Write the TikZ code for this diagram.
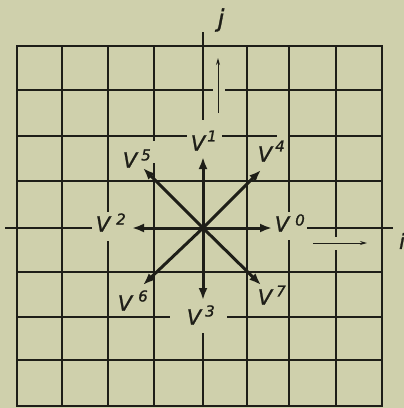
\documentclass[tikz,border=0pt]{standalone}
\usepackage{fontspec}
\setmainfont{DejaVu Sans}[ItalicFeatures={FakeBold=1.2}]
\usetikzlibrary{arrows.meta}
\definecolor{bg}{RGB}{207,208,172}
\definecolor{ink}{RGB}{30,30,24}
\begin{document}
\begin{tikzpicture}[x=1pt,y=-1pt,
  grid/.style={draw=ink,line width=1.6pt},
  axis/.style={draw=ink,line width=2.4pt},
  vec/.style={draw=ink,line width=3pt,-{Latex[length=12pt,width=9pt]}},
  small/.style={draw=ink,line width=1pt,-{Stealth[length=7pt,width=4pt]}},
  vl/.style={text=ink,inner sep=0pt,font=\fontsize{21}{21}\selectfont\itshape},
  sl/.style={text=ink,inner sep=0pt,font=\fontsize{15}{15}\selectfont\itshape},
  al/.style={text=ink,inner sep=0pt,font=\fontsize{24}{24}\selectfont\itshape},
]
\fill[bg] (0,0) rectangle (404,408);
\useasboundingbox (0,0) rectangle (404,408);

% grid
\draw[grid] (17,46) rectangle (382,406);
\draw[grid] (62,46) -- (62,406);
\draw[grid] (108,46) -- (108,212) (108,241) -- (108,406);
\draw[grid] (154,46) -- (154,141) (154,163) -- (154,406);
\draw[grid] (247,46) -- (247,406);
\draw[grid] (289,46) -- (289,212) (289,240) -- (289,406);
\draw[grid] (336,46) -- (336,237) (336,250) -- (336,406);
\draw[grid] (17,90) -- (213,90) (225,90) -- (382,90);
\draw[grid] (17,136) -- (187,136) (222,136) -- (277,136) (289,136) -- (382,136);
\draw[grid] (17,181) -- (382,181);
\draw[grid] (17,272) -- (382,272);
\draw[grid] (17,317) -- (170,317) (227,317) -- (382,317);
\draw[grid] (17,360) -- (382,360);

% axes
\draw[axis] (203,32) -- (203,120);
\draw[axis] (203,333) -- (203,406);
\draw[axis] (5,228) -- (92,228);
\draw[axis] (307,228) -- (393,228);

% labels
\node[al] (jl) at (221,20) {j};
\node[vl] (il) at (402,241) {i};
\node[vl] (v0) at (282,224) {V}; \node[sl] (s0) at (300,220) {0};
\node[vl] (v1) at (198,143) {V}; \node[sl] (s1) at (212,136) {1};
\node[vl] (v2) at (103,224) {V}; \node[sl] (s2) at (121,219) {2};
\node[vl] (v3) at (194,317) {V}; \node[sl] (s3) at (210,311) {3};
\node[vl] (v4) at (265,154) {V}; \node[sl] (s4) at (280,146) {4};
\node[vl] (v5) at (130,160) {V}; \node[sl] (s5) at (146,155) {5};
\node[vl] (v6) at (125,303) {V}; \node[sl] (s6) at (143,296) {6};
\node[vl] (v7) at (265,297) {V}; \node[sl] (s7) at (281,291) {7};

% vectors
\coordinate (C) at (203,228);
\coordinate (t0) at (272,228);
\coordinate (t1) at (203,157);
\coordinate (t2) at (132,228);
\coordinate (t3) at (203,300);
\coordinate (t4) at (261,170);
\coordinate (t5) at (143,168);
\coordinate (t6) at (143,285);
\coordinate (t7) at (261,285);
\foreach \k in {0,...,7} { \draw[vec] (C) -- (t\k); }

% small direction arrows
\coordinate (ja) at (218,113);
\coordinate (jb) at (218,58);
\coordinate (ia) at (313,243);
\coordinate (ib) at (367,243);
\draw[small] (ja) -- (jb);
\draw[small] (ia) -- (ib);
\end{tikzpicture}
\end{document}
